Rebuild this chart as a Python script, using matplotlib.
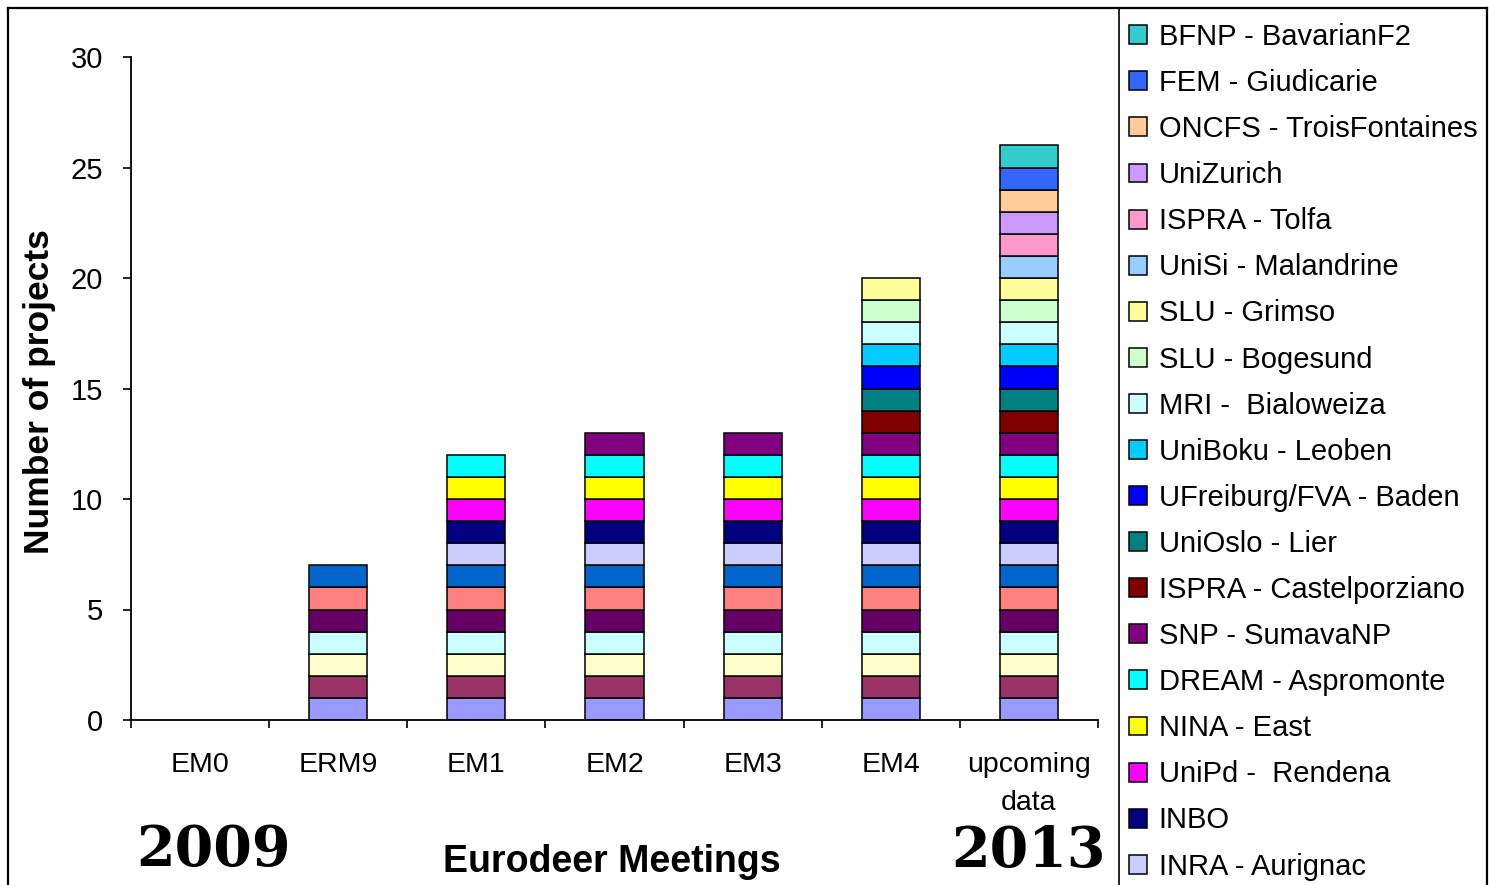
import numpy as np
import matplotlib.pyplot as plt
from matplotlib.lines import Line2D

plt.rcParams['font.family'] = 'Liberation Sans'

meetings = ['EM0', 'ERM9', 'EM1', 'EM2', 'EM3', 'EM4', 'upcoming\ndata']
projects_per_meeting = [0, 7, 12, 13, 13, 20, 26]

# one colour per project, bottom of the stack first
colours = ['#9999FF', '#993366', '#FFFFCC', '#CCFFFF', '#660066', '#FF8080', '#0066CC',
           '#CCCCFF', '#000080', '#FF00FF', '#FFFF00', '#00FFFF', '#800080', '#800000',
           '#008080', '#0000FF', '#00CCFF', '#CCFFFF', '#CCFFCC', '#FFFF99', '#99CCFF',
           '#FF99CC', '#CC99FF', '#FFCC99', '#3366FF', '#33CCCC']

# legend entries, top of the stack first (project 26 down to project 8)
names = ['BFNP - BavarianF2', 'FEM - Giudicarie', 'ONCFS - TroisFontaines', 'UniZurich',
         'ISPRA - Tolfa', 'UniSi - Malandrine', 'SLU - Grimso', 'SLU - Bogesund',
         'MRI -  Bialoweiza', 'UniBoku - Leoben', 'UFreiburg/FVA - Baden', 'UniOslo - Lier',
         'ISPRA - Castelporziano', 'SNP - SumavaNP', 'DREAM - Aspromonte', 'NINA - East',
         'UniPd -  Rendena', 'INBO', 'INRA - Aurignac']

W, H = 1489, 885
fig = plt.figure(figsize=(W / 100, H / 100), dpi=100)
ax = fig.add_axes([131 / W, (H - 720) / H, (1098 - 131) / W, (720 - 57) / H])

x = np.arange(len(meetings))
totals = np.array(projects_per_meeting)
bars = []
for k, c in enumerate(colours):
    idx = x[totals > k]          # meetings that already had project k+1
    b = ax.bar(idx, 1, bottom=k, width=0.42, color=c, edgecolor='black', linewidth=1.1)
    bars.append(b)

ax.set_xlim(-0.5, len(meetings) - 0.5)
ax.set_ylim(0, 30)
ax.set_yticks(range(0, 31, 5))
ax.set_xticks(x)
ax.set_xticklabels(meetings)
for lab in ax.get_xticklabels():
    lab.set_linespacing(1.6)
ax.set_xticks(np.arange(-0.5, len(meetings)), minor=True)
ax.tick_params(axis='x', which='major', length=0, pad=23, labelsize=20.5)
ax.tick_params(axis='x', which='minor', length=6, width=1.2, direction='out')
ax.tick_params(axis='y', length=6, width=1.2, pad=14, labelsize=21)
for s in ['top', 'right']:
    ax.spines[s].set_visible(False)
for s in ['left', 'bottom']:
    ax.spines[s].set_linewidth(1.3)

ax.set_ylabel('Number of projects', fontsize=25.5, fontweight='bold')
ax.yaxis.set_label_coords((56 - 131) / (1098 - 131), 0.495)

fig.text(612 / W, (H - 872) / H, 'Eurodeer Meetings', fontsize=27, fontweight='bold',
         ha='center', va='baseline')
fig.text(214 / W, (H - 866) / H, '2009', fontsize=40, fontweight='bold',
         family='DejaVu Serif', ha='center', va='baseline')
fig.text(1028 / W, (H - 867) / H, '2013', fontsize=40, fontweight='bold',
         family='DejaVu Serif', ha='center', va='baseline')

# legend, listed from the top of the stack downward
handles = [bars[k] for k in range(len(colours) - 1, len(colours) - 1 - len(names), -1)]
fig.legend(handles, names, loc='upper left', bbox_to_anchor=(1129 / W, (H - 23) / H),
           frameon=False, fontsize=21, handlelength=0.62, handleheight=0.62,
           handletextpad=0.4, labelspacing=0.62, borderpad=0, borderaxespad=0)

# chart border and the line separating the legend
lw = 1.6
fig.add_artist(Line2D([8 / W, 8 / W], [0, (H - 8) / H], color='black', lw=lw))
fig.add_artist(Line2D([8 / W, 1487 / W], [(H - 8) / H, (H - 8) / H], color='black', lw=lw))
fig.add_artist(Line2D([1487 / W, 1487 / W], [0, (H - 8) / H], color='black', lw=lw))
fig.add_artist(Line2D([1119 / W, 1119 / W], [0, (H - 8) / H], color='black', lw=1.2))

fig.savefig('out.png', dpi=100)
